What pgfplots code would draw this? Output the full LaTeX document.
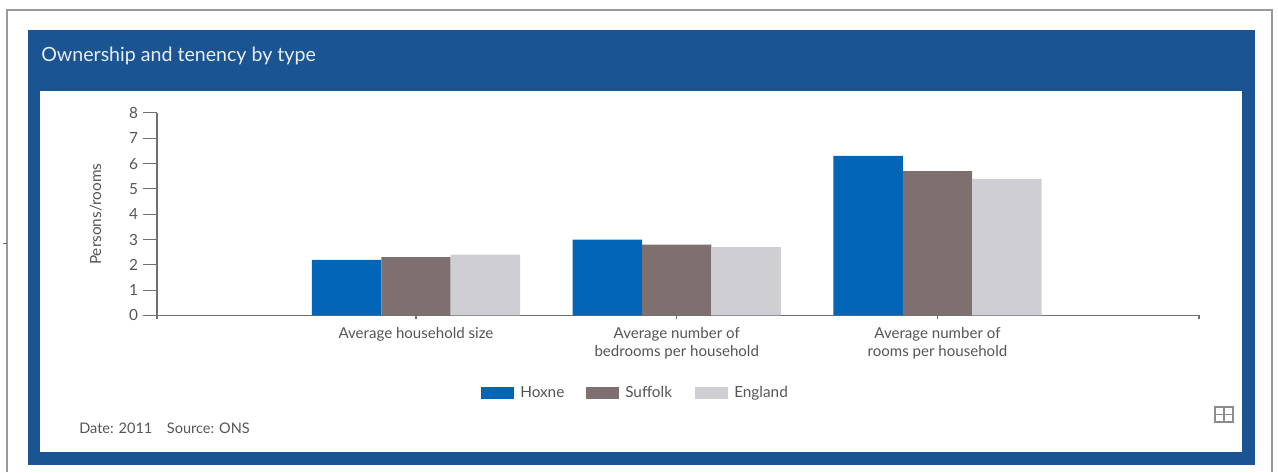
\documentclass[border=0pt]{standalone}
\usepackage{pgfplots}
\pgfplotsset{compat=1.18}
\usepackage{fontspec}
\setmainfont{Lato}
\definecolor{panelblue}{HTML}{1A5493}
\definecolor{hoxne}{HTML}{0265B8}
\definecolor{suffolk}{HTML}{7E7070}
\definecolor{england}{HTML}{CFCED3}
\definecolor{axisgrey}{HTML}{707070}
\definecolor{labelgrey}{HTML}{555555}
\tikzset{px/.style={x=0.75pt,y=-0.75pt}}
\begin{document}
\begin{tikzpicture}
% page, outer frame and blue panel, in pixel coordinates from the top left
\begin{scope}[px]
\path[use as bounding box,fill=white] (0,0) rectangle (1278,472);
\draw[black!40,line width=1.2pt] (7,472) -- (7,10) -- (1272,10) -- (1272,472);
\draw[black!60,line width=0.5pt] (3,243) -- (7,243);
\fill[panelblue] (28,30) rectangle (1255,465);
\fill[white] (40,91) rectangle (1242,452);
\node[anchor=base west,inner sep=0pt,white!90!panelblue,font=\fontsize{14.7pt}{17pt}\selectfont] at (41,61) {Ownership and tenency by type};
\end{scope}
% bar chart
\begin{axis}[
  at={(117.75pt,-236.6pt)},anchor=south west,
  scale only axis,
  width=781.5pt,height=151.9pt,
  ybar=0pt,bar width=52.1pt,
  xmin=0.0067,xmax=4.003,ymin=0,ymax=8,
  axis y line=left,axis x line=bottom,
  axis line style={axisgrey,line width=1pt,-},
  tick align=outside,
  tick style={axisgrey,line width=0.8pt},
  xtick style={/pgfplots/major tick length=3pt},
  ytick style={/pgfplots/major tick length=10.5pt},
  xtick={0.0067,1,2,3,4.003},
  xticklabels={,Average household size,{Average number of\\bedrooms per household},{Average number of\\rooms per household},},
  x tick label style={align=center,text=labelgrey,font=\fontsize{11.3pt}{13.5pt}\selectfont,yshift=-1.2pt},
  ytick={0,1,...,8},
  y tick label style={text=labelgrey,font=\fontsize{11.5pt}{12pt}\selectfont,xshift=-6.5pt},
  /pgf/number format/assume math mode=true,
  ylabel={Persons/rooms},
  ylabel style={text=labelgrey,font=\fontsize{11.5pt}{11pt}\selectfont,at={(axis description cs:-0.0485,0.5)},anchor=south},
  clip=false,
]
\addplot[fill=hoxne,draw=none] coordinates {(1,2.2) (2,3.0) (3,6.3)};
\addplot[fill=suffolk,draw=none] coordinates {(1,2.3) (2,2.8) (3,5.7)};
\addplot[fill=england,draw=none] coordinates {(1,2.4) (2,2.7) (3,5.4)};
\end{axis}
% legend, footer and table icon
\begin{scope}[px,every node/.append style={anchor=base west,text=labelgrey,inner sep=0pt}]
\fill[hoxne] (481,387) rectangle (514,399);
\node[font=\fontsize{11.5pt}{12pt}\selectfont] at (520,397) {Hoxne};
\fill[suffolk] (586,387) rectangle (619,399);
\node[font=\fontsize{11.5pt}{12pt}\selectfont] at (625,397) {Suffolk};
\fill[england] (695,387) rectangle (728,399);
\node[font=\fontsize{11.5pt}{12pt}\selectfont] at (734,397) {England};
\node[font=\fontsize{10.9pt}{12pt}\selectfont] at (79,433) {Date: 2011\quad Source: ONS};
\draw[black!45,line width=1.3pt] (1215,407) rectangle (1233,422);
\draw[black!45,line width=1.1pt] (1215,414.5) -- (1233,414.5) (1224,407) -- (1224,422);
\end{scope}
\end{tikzpicture}
\end{document}
